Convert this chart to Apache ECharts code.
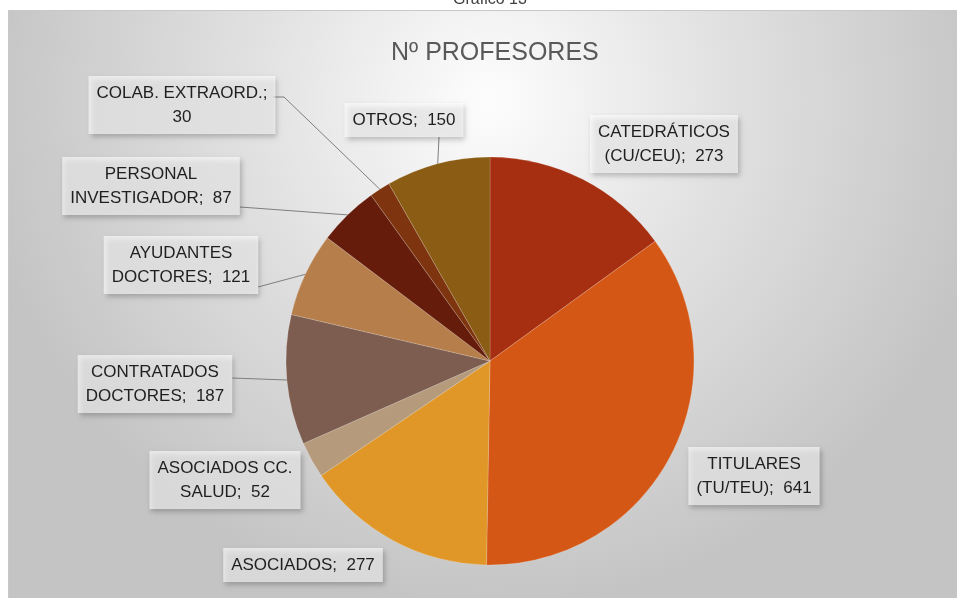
<!DOCTYPE html>
<html>
<head>
<meta charset="utf-8">
<script src="https://cdn.jsdelivr.net/npm/echarts@6/dist/echarts.min.js"></script>
<style>
html,body{margin:0;padding:0;background:#fff;}
#c{width:957px;height:598px;}
</style>
</head>
<body>
<div id="c"></div>
<script>
// ---- data ----
const categories = [
  'CATEDRÁTICOS\n(CU/CEU)',
  'TITULARES\n(TU/TEU)',
  'ASOCIADOS',
  'ASOCIADOS CC.\nSALUD',
  'CONTRATADOS\nDOCTORES',
  'AYUDANTES\nDOCTORES',
  'PERSONAL\nINVESTIGADOR',
  'COLAB. EXTRAORD.',
  'OTROS'
];
const values = [273, 641, 277, 52, 187, 121, 87, 30, 150];
const colors = ['#A52F10', '#D55716', '#E09728', '#B59B7B', '#7D5D4F', '#B57E4B', '#661C0A', '#7E350F', '#8A5C14'];
const breakAfterSeparator = [false, false, false, false, false, false, false, true, false];
const showLeader = [false, false, false, false, true, true, true, true, true];
// label box centres and leader-line end points (layout only)
const labelPos = [[664,144],[754,476],[303,565],[225,480],[155,384],[181,265],[151,186],[182,105],[404,120]];
const leaderEnds = [null, null, null, null, [[232,378]], [[258,287]], [[240,207]], [[284,97],[273,97]], [[439,137]]];

const chart = echarts.init(document.getElementById('c'), null, {renderer:'canvas'});
const FONT = '"Liberation Sans", Arial, sans-serif';

chart.setOption({
  animation: false,
  textStyle: {fontFamily: FONT},
  graphic: [
    {
      type: 'rect', z: -10, silent: true,
      shape: {x: 8.5, y: 10.5, width: 960, height: 600},
      style: {
        fill: new echarts.graphic.RadialGradient(0.5, 0.15, 0.85, [
          {offset: 0, color: '#fdfdfd'},
          {offset: 0.45, color: '#e2e2e2'},
          {offset: 1, color: '#c4c4c4'}
        ]),
        stroke: '#c8c8c8', lineWidth: 1
      }
    },
    {
      type: 'text', z: -5, x: 490, y: -8,
      style: {text: 'Gráfico 13', fontSize: 16, fill: '#404040', fontFamily: FONT, textAlign: 'center', textVerticalAlign: 'top'}
    }
  ],
  title: {
    text: 'Nº PROFESORES',
    left: 386, top: 36,
    textStyle: {fontSize: 25, fontWeight: 'normal', color: '#595959', fontFamily: FONT}
  },
  series: [{
    type: 'pie',
    center: [490, 361],
    radius: 204,
    startAngle: 90,
    clockwise: true,
    avoidLabelOverlap: false,
    itemStyle: {borderColor: 'rgba(255,255,255,0.35)', borderWidth: 0.5},
    label: {
      show: true,
      fontSize: 17,
      lineHeight: 24,
      color: '#1f1f1f',
      fontFamily: FONT,
      align: 'center',
      backgroundColor: 'rgba(255,255,255,0.62)',
      padding: [5, 8, 5, 8],
      shadowColor: 'rgba(0,0,0,0.35)',
      shadowBlur: 5,
      shadowOffsetX: 2,
      shadowOffsetY: 3,
      formatter: function (p) {
        const sep = breakAfterSeparator[p.dataIndex] ? ';\n' : ';  ';
        return p.name + sep + p.value;
      }
    },
    labelLine: {show: true, lineStyle: {color: '#7f7f7f', width: 1}, length: 20, length2: 20},
    labelLayout: function (params) {
      const i = params.dataIndex;
      const p = labelPos[i];
      const out = {x: p[0], y: p[1], align: 'center', verticalAlign: 'middle'};
      if (leaderEnds[i] && params.labelLinePoints) {
        out.labelLinePoints = [params.labelLinePoints[0]].concat(leaderEnds[i]);
      }
      return out;
    },
    data: categories.map(function (c, i) {
      return {
        name: c, value: values[i],
        itemStyle: {color: colors[i]},
        labelLine: {show: showLeader[i]}
      };
    })
  }]
});
</script>
</body>
</html>
